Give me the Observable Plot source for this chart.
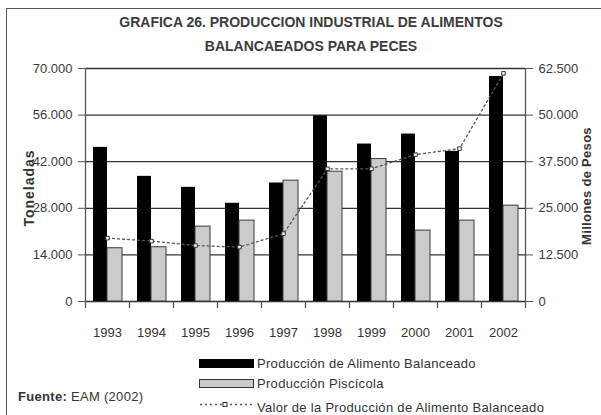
<!DOCTYPE html>
<html>
<head>
<meta charset="utf-8">
<script src="https://cdn.jsdelivr.net/npm/d3@7"></script>
<script src="https://cdn.jsdelivr.net/npm/@observablehq/plot@0.6"></script>
<style>
  html, body { margin: 0; padding: 0; background: #fff; }
  #wrap { position: relative; width: 601px; height: 415px; overflow: hidden; font-family: "Liberation Sans", Arial, sans-serif; color: #333; }
  #wrap svg { position: absolute; left: 0; top: 0; }
  .abs { position: absolute; white-space: nowrap; line-height: 16px; }
  .title { left: 0; width: 622px; text-align: center; font-weight: bold; font-size: 14px; color: #3c3c3c; }
  .axlab { font-weight: bold; font-size: 13px; color: #333; transform-origin: center center; }
  .leg { font-size: 13px; letter-spacing: 0.3px; color: #333; }
</style>
</head>
<body>
<div id="wrap"></div>
<script>
// ---- data ----
const years = ["1993", "1994", "1995", "1996", "1997", "1998", "1999", "2000", "2001", "2002"];
const alimento = [46300, 37600, 34300, 29500, 35600, 55800, 47300, 50300, 45100, 67600];   // toneladas
const piscicola = [16000, 16300, 22500, 24300, 36300, 39000, 42800, 21300, 24300, 28800]; // toneladas
const valor = [17000, 16200, 15000, 14600, 18200, 35600, 35600, 39400, 41000, 61200];     // millones de pesos
const leftTicks = [0, 14000, 28000, 42000, 56000, 70000];
const rightTicks = [0, 12500, 25000, 37500, 50000, 62500];
const leftMax = 70000, rightMax = 62500;

const titleLines = ["GRAFICA 26.  PRODUCCION INDUSTRIAL DE ALIMENTOS", "BALANCAEADOS PARA PECES"];
const seriesNames = ["Producción de Alimento Balanceado", "Producción Piscícola", "Valor de la Producción de Alimento Balanceado"];
const leftLabel = "Toneladas";
const rightLabel = "Millones de Pesos";

const table = years.map((y, i) => ({year: y, alimento: alimento[i], piscicola: piscicola[i], valor: valor[i]}));
const fmt = d3.formatLocale({decimal: ",", thousands: ".", grouping: [3], currency: ["$", ""]}).format(",");
const toLeft = v => v * leftMax / rightMax;

const W = 601, H = 415;
const mL = 85, mR = 76, mT = 68, mB = 114;
const band = (W - mL - mR) / years.length;
const tickLen = 7 * leftMax / (H - mT - mB); // 7px in data units

const chart = Plot.plot({
  width: W, height: H,
  marginLeft: mL, marginRight: mR, marginTop: mT, marginBottom: mB,
  style: {fontFamily: '"Liberation Sans", Arial, sans-serif', fontSize: "13px", color: "#333", background: "transparent"},
  x: {type: "band", domain: years, padding: 0, axis: null},
  y: {domain: [0, leftMax], axis: null},
  marks: [
    Plot.ruleY(leftTicks, {stroke: "#333", strokeWidth: 1.3}),
    Plot.ruleX([years[0]], {x: d => d, dx: -band / 2, y1: -tickLen, y2: leftMax, stroke: "#555", strokeWidth: 1.3}),
    Plot.ruleX([years[years.length - 1]], {x: d => d, dx: band / 2, y1: -tickLen, y2: leftMax, stroke: "#555", strokeWidth: 1.3}),
    Plot.ruleX(years.slice(1), {x: d => d, dx: -band / 2, y1: -tickLen, y2: 0, stroke: "#555", strokeWidth: 1.3}),
    Plot.barY(table, {x: "year", y: "alimento", fill: "#000", insetLeft: 8, insetRight: 22}),
    Plot.barY(table, {x: "year", y: "piscicola", fill: "#cbcbcb", stroke: "#3a3a3a", strokeWidth: 1, insetLeft: 22, insetRight: 7}),
    Plot.line(table, {x: "year", y: d => toLeft(d.valor), stroke: "#555", strokeWidth: 1.3, strokeDasharray: "2,3"}),
    Plot.dot(table, {x: "year", y: d => toLeft(d.valor), symbol: "square", r: 2, fill: "#fff", stroke: "#333", strokeWidth: 1}),
    Plot.axisY(leftTicks, {anchor: "left", tickSize: 7, tickPadding: 6, tickFormat: fmt, label: null, stroke: "#555", fill: "#3a3a3a", fontSize: 13}),
    Plot.axisY(leftTicks, {anchor: "right", tickSize: 7, tickPadding: 6, tickFormat: d => fmt(Math.round(d * rightMax / leftMax)), label: null, stroke: "#555", fill: "#3a3a3a", fontSize: 13}),
    Plot.axisX(years, {anchor: "bottom", tickSize: 0, tickPadding: 26, label: null, fill: "#333", fontSize: 13})
  ]
});

const wrap = document.getElementById("wrap");
wrap.appendChild(chart);

// outer border (left and top)
const border = document.createElement("div");
border.className = "abs";
border.style.cssText = "left:6px;top:8px;width:620px;height:420px;border-left:1.5px solid #555;border-top:1.5px solid #555;";
wrap.appendChild(border);

// title
titleLines.forEach((t, i) => {
  const d = document.createElement("div");
  d.className = "abs title";
  d.style.top = (i === 0 ? 14 : 38) + "px";
  d.textContent = t;
  wrap.appendChild(d);
});

// axis labels
const ll = document.createElement("div");
ll.className = "abs axlab";
ll.textContent = leftLabel;
ll.style.cssText += "left:-11px;top:180px;width:80px;text-align:center;transform:rotate(-90deg);font-size:14px;letter-spacing:1px;";
wrap.appendChild(ll);

const rl = document.createElement("div");
rl.className = "abs axlab";
rl.textContent = rightLabel;
rl.style.cssText += "left:527px;top:178px;width:120px;text-align:center;transform:rotate(-90deg);letter-spacing:0.3px;";
wrap.appendChild(rl);

// legend
function legRow(top, swHtml, textTop, text) {
  const s = document.createElement("div");
  s.className = "abs";
  s.style.left = "199px"; s.style.top = top + "px"; s.style.lineHeight = "0";
  s.innerHTML = swHtml;
  wrap.appendChild(s);
  const t = document.createElement("div");
  t.className = "abs leg";
  t.style.left = "257px"; t.style.top = textTop + "px";
  t.textContent = text;
  wrap.appendChild(t);
}
legRow(359, '<div style="width:55px;height:9px;background:#000;"></div>', 356, seriesNames[0]);
legRow(379, '<div style="width:55px;height:9px;background:#cbcbcb;border:1.5px solid #333;box-sizing:border-box;"></div>', 376, seriesNames[1]);
legRow(400, '<svg width="55" height="9"><line x1="1" y1="4.5" x2="54" y2="4.5" stroke="#555" stroke-width="1.3" stroke-dasharray="2,3"/><rect x="24" y="2.5" width="4" height="4" fill="#fff" stroke="#333"/></svg>', 400, seriesNames[2]);

// source
const src = document.createElement("div");
src.className = "abs leg";
src.style.left = "18px"; src.style.top = "389px";
src.innerHTML = "<b>Fuente:</b> EAM (2002)";
wrap.appendChild(src);
</script>
</body>
</html>
